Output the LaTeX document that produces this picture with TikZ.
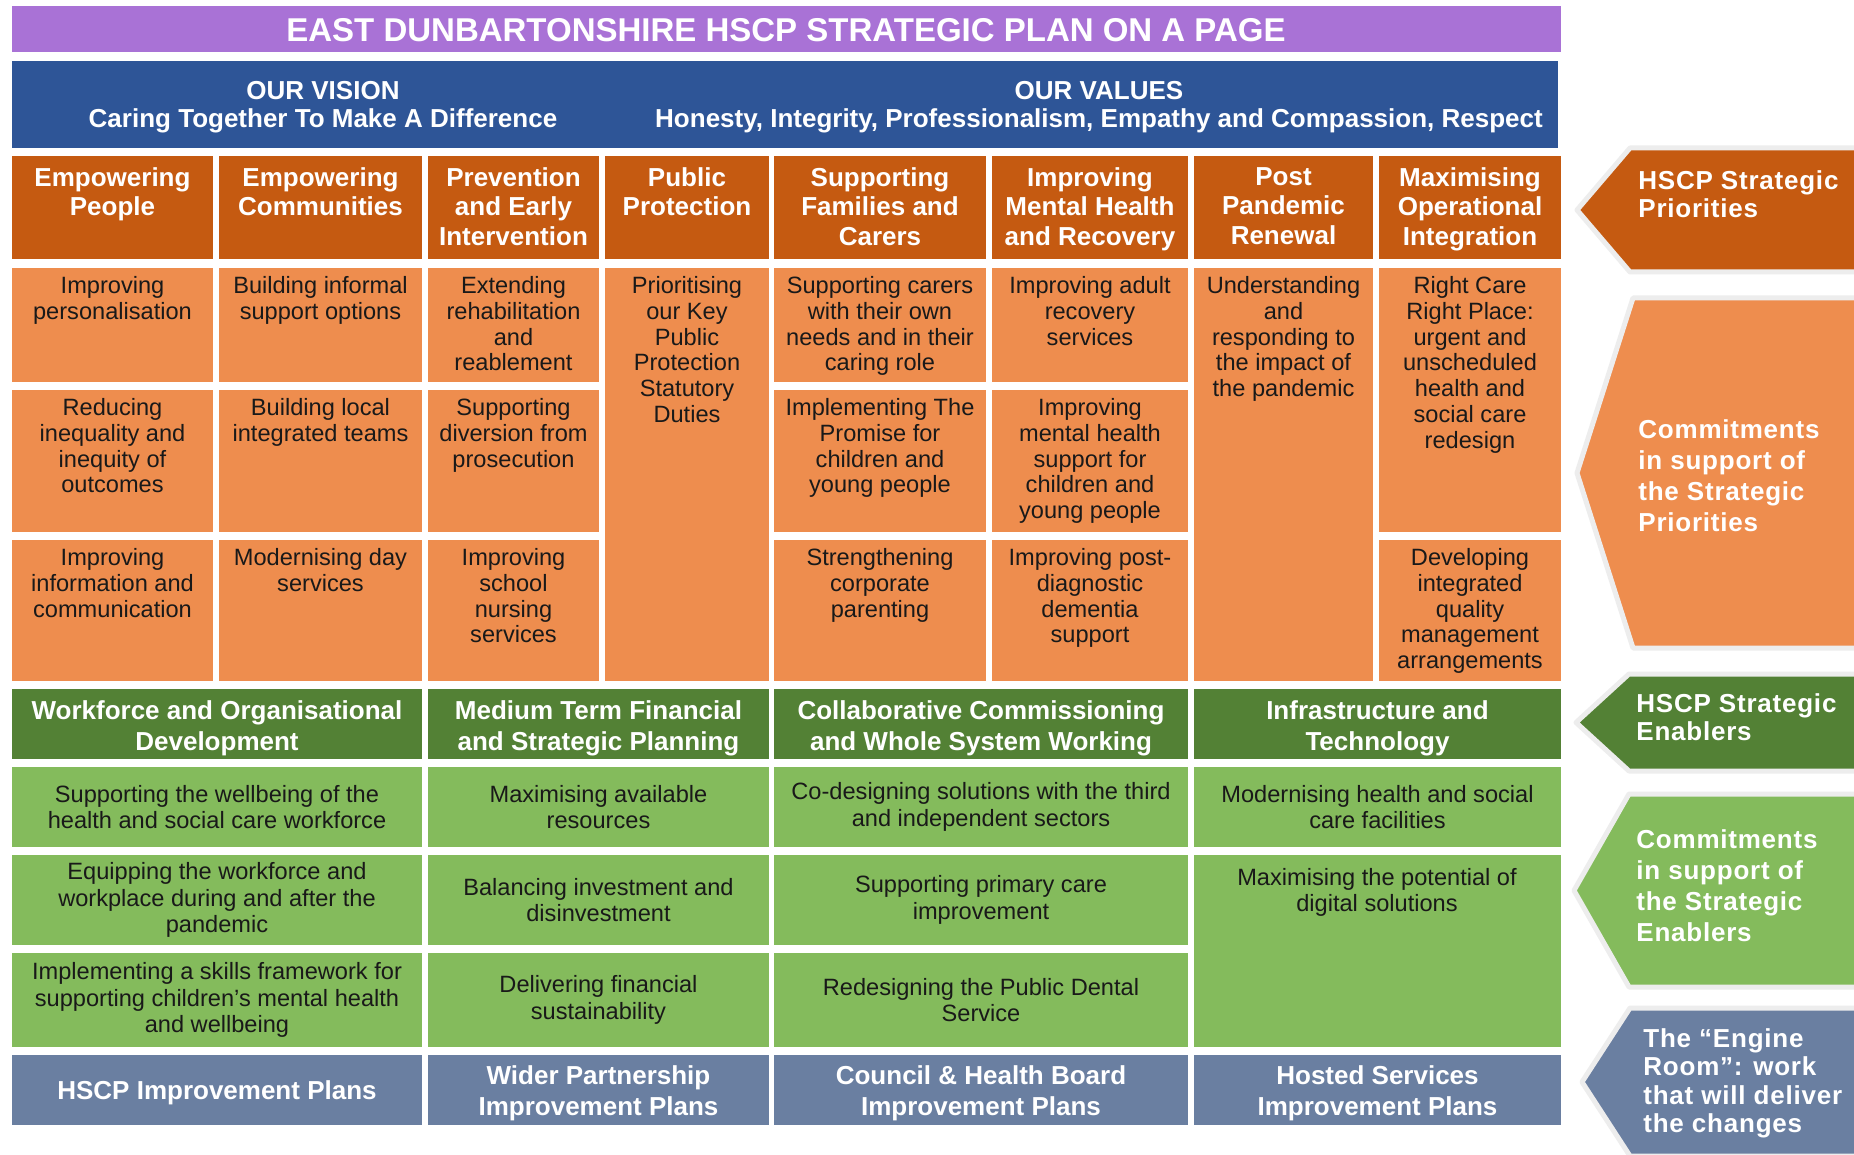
\documentclass[tikz,border=0pt]{standalone}
\usepackage{fontspec}
\setmainfont{Liberation Sans}
\newfontfamily\arrowfont[LetterSpace=3]{Liberation Sans}

\definecolor{titlepurple}{HTML}{A972D6}
\definecolor{visionblue}{HTML}{2E5597}
\definecolor{prioorange}{HTML}{C55A11}
\definecolor{commitorange}{HTML}{EE8D4E}
\definecolor{enablegreen}{HTML}{538135}
\definecolor{commitgreen}{HTML}{84BB5C}
\definecolor{planslate}{HTML}{6A7FA1}

\begin{document}
\begin{tikzpicture}[x=0.5pt, y=-0.5pt,
	titletext/.style={text=white, font=\fontsize{16.5}{18}\selectfont\bfseries, inner sep=0pt},
	visiontext/.style={text=white, font=\fontsize{13}{14}\selectfont\bfseries, align=center, inner sep=0pt},
	headtext/.style={text=white, font=\fontsize{13}{14.8}\selectfont\bfseries, align=center, anchor=north, inner sep=0pt},
	committext/.style={text=black!90, font=\fontsize{11.8}{12.9}\selectfont, align=center, anchor=north, inner sep=0pt},
	enabletext/.style={text=white, font=\fontsize{13}{15.5}\selectfont\bfseries, align=center, inner sep=0pt},
	greentext/.style={text=black!90, font=\fontsize{11.8}{13.2}\selectfont, align=center, inner sep=0pt},
	arrowshape/.style={draw=black!7, line width=2.5pt, line join=round},
	arrowtext/.style={text=white, font=\arrowfont\fontsize{13}{14.2}\selectfont\bfseries, align=left, anchor=north west, inner sep=0pt}
]

\useasboundingbox (0,0) rectangle (1854,1155);
\fill[white] (0,0) rectangle (1854,1155);
\clip (0,0) rectangle (1854,1155);

% title and vision
\fill[titlepurple] (12,6) rectangle (1561,52);
\node[titletext] (title) at (786,30) {EAST DUNBARTONSHIRE HSCP STRATEGIC PLAN ON A PAGE};

\fill[visionblue] (12,61) rectangle (1558,148);
\node[visiontext] (vision) at (323,107) {OUR VISION\\Caring Together To Make A Difference};
\node[visiontext] (values) at (1099,107) {OUR VALUES\\Honesty, Integrity, Professionalism, Empathy and Compassion, Respect};

% strategic priorities
\foreach \n/\xa/\xb/\txt in {1/12/213/{Empowering\\People}, 2/219/422/{Empowering\\Communities},
	3/428/599/{Prevention\\and Early\\Intervention}, 4/605/769/{Public\\Protection},
	5/774/986/{Supporting\\Families and\\Carers}, 6/992/1188/{Improving\\Mental Health\\and Recovery},
	7/1194/1373/{Post\\Pandemic\\Renewal}, 8/1379/1561/{Maximising\\Operational\\Integration}}
{
	\fill[prioorange] (\xa,156) rectangle (\xb,259);
	\node[headtext] (prio\n) at ({(\xa+\xb)/2},167) {\txt};
}

% commitments to the priorities
\foreach \n/\xa/\xb/\ya/\yb/\txt in {
	1/12/213/268/382/{Improving\\personalisation},
	2/12/213/390/532/{Reducing\\inequality and\\inequity of\\outcomes},
	3/12/213/540/681/{Improving\\information and\\communication},
	4/219/422/268/382/{Building informal\\support options},
	5/219/422/390/532/{Building local\\integrated teams},
	6/219/422/540/681/{Modernising day\\services},
	7/428/599/268/382/{Extending\\rehabilitation\\and\\reablement},
	8/428/599/390/532/{Supporting\\diversion from\\prosecution},
	9/428/599/540/681/{Improving\\school\\nursing\\services},
	10/605/769/268/681/{Prioritising\\our Key\\Public\\Protection\\Statutory\\Duties},
	11/774/986/268/382/{Supporting carers\\with their own\\needs and in their\\caring role},
	12/774/986/390/532/{Implementing The\\Promise for\\children and\\young people},
	13/774/986/540/681/{Strengthening\\corporate\\parenting},
	14/992/1188/268/382/{Improving adult\\recovery\\services},
	15/992/1188/390/532/{Improving\\mental health\\support for\\children and\\young people},
	16/992/1188/540/681/{Improving post-\\diagnostic\\dementia\\support},
	17/1194/1373/268/681/{Understanding\\and\\responding to\\the impact of\\the pandemic},
	18/1379/1561/268/532/{Right Care\\Right Place:\\urgent and\\unscheduled\\health and\\social care\\redesign},
	19/1379/1561/540/681/{Developing\\integrated\\quality\\management\\arrangements}}
{
	\fill[commitorange] (\xa,\ya) rectangle (\xb,\yb);
	\node[committext] (com\n) at ({(\xa+\xb)/2},{\ya+8}) {\txt};
}

% strategic enablers
\foreach \n/\xa/\xb/\txt in {1/12/422/{Workforce and Organisational\\Development},
	2/428/769/{Medium Term Financial\\and Strategic Planning},
	3/774/1188/{Collaborative Commissioning\\and Whole System Working},
	4/1194/1561/{Infrastructure and\\Technology}}
{
	\fill[enablegreen] (\xa,689) rectangle (\xb,759);
	\node[enabletext] (enab\n) at ({(\xa+\xb)/2},728) {\txt};
}

% commitments to the enablers
\foreach \n/\xa/\xb/\ya/\yb/\txt in {
	1/12/422/767/847/{Supporting the wellbeing of the\\health and social care workforce},
	2/12/422/855/945/{Equipping the workforce and\\workplace during and after the\\pandemic},
	3/12/422/953/1047/{Implementing a skills framework for\\supporting children’s mental health\\and wellbeing},
	4/428/769/767/847/{Maximising available\\resources},
	5/428/769/855/945/{Balancing investment and\\disinvestment},
	6/428/769/953/1047/{Delivering financial\\sustainability},
	7/774/1188/767/847/{Co-designing solutions with the third\\and independent sectors},
	8/774/1188/855/945/{Supporting primary care\\improvement},
	9/774/1188/953/1047/{Redesigning the Public Dental\\Service},
	10/1194/1561/767/847/{Modernising health and social\\care facilities}}
{
	\fill[commitgreen] (\xa,\ya) rectangle (\xb,\yb);
	\node[greentext] (ecom\n) at ({(\xa+\xb)/2},{(\ya+\yb)/2}) {\txt};
}
\fill[commitgreen] (1194,855) rectangle (1561,1047);
\node[greentext, anchor=north] (ecom11) at (1377,868) {Maximising the potential of\\digital solutions};

% improvement plans
\foreach \n/\xa/\xb/\txt in {1/12/422/{HSCP Improvement Plans},
	2/428/769/{Wider Partnership\\Improvement Plans},
	3/774/1188/{Council \& Health Board\\Improvement Plans},
	4/1194/1561/{Hosted Services\\Improvement Plans}}
{
	\fill[planslate] (\xa,1055) rectangle (\xb,1125);
	\node[enabletext] (plan\n) at ({(\xa+\xb)/2},1093) {\txt};
}

% side arrows
\foreach \col/\ya/\yb/\xt/\xc in {prioorange/148/272/1577/1630, commitorange/298/648/1577/1633,
	enablegreen/674/771/1576/1629, commitgreen/794/987/1574/1629, planslate/1008/1156/1582/1630}
{
	\filldraw[arrowshape, fill=\col] (\xc,\ya) -- (1880,\ya) -- (1880,\yb) -- (\xc,\yb) -- (\xt,{(\ya+\yb)/2}) -- cycle;
}
\node[arrowtext] (priolabel) at (1638,170) {HSCP Strategic\\Priorities};
\node[arrowtext, font=\arrowfont\fontsize{13}{15.5}\selectfont\bfseries] (prcomlabel) at (1638,419) {Commitments\\in support of\\the Strategic\\Priorities};
\node[arrowtext] (enablabel) at (1636,693) {HSCP Strategic\\Enablers};
\node[arrowtext, font=\arrowfont\fontsize{13}{15.5}\selectfont\bfseries] (encomlabel) at (1636,829) {Commitments\\in support of\\the Strategic\\Enablers};
\node[arrowtext] (planlabel) at (1643,1028) {The “Engine\\Room”: work\\that will deliver\\the changes};

\end{tikzpicture}
\end{document}
